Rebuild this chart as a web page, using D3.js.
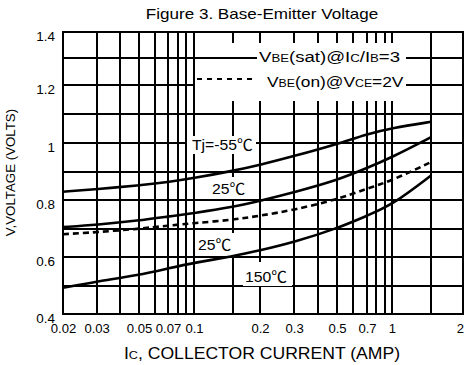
<!DOCTYPE html>
<html><head><meta charset="utf-8">
<script src="https://cdn.jsdelivr.net/npm/d3@7"></script>
<style>
body{margin:0;background:#fff}
svg{display:block}
text{font-family:"Liberation Sans",Arial,"Noto Sans CJK SC",sans-serif;fill:#000}
</style></head><body>
<svg id="c" width="464" height="365"></svg>
<script>
// ---- data ----
const current = [0.02,0.03,0.05,0.07,0.1,0.15,0.2,0.3,0.5,0.7,1,1.5];
const vbeSatM55 = [0.829,0.838,0.851,0.863,0.877,0.902,0.923,0.954,0.996,1.031,1.052,1.073];
const vbeSat25  = [0.705,0.713,0.728,0.742,0.754,0.775,0.797,0.827,0.869,0.912,0.950,1.020];
const vbeOn25   = [0.680,0.687,0.699,0.710,0.719,0.730,0.745,0.765,0.802,0.840,0.868,0.933];
const vbeSat150 = [0.492,0.514,0.537,0.560,0.580,0.602,0.623,0.652,0.700,0.745,0.782,0.886];

const xTicks = [0.02,0.03,0.05,0.07,0.1,0.2,0.3,0.5,0.7,1,2];
const xTickLabels = ["0.02","0.03","0.05","0.07","0.1","0.2","0.3","0.5","0.7","1","2"];
const xGrid = [0.03,0.04,0.05,0.06,0.07,0.08,0.09,0.1,0.15,0.2,0.3,0.4,0.5,0.6,0.7,0.8,0.9,1,1.5];
const yTicks = [0.4,0.6,0.8,1.0,1.2,1.4];
const yTickLabels = ["0.4","0.6","0.8","1","1.2","1.4"];
const yGrid = [0.5,0.6,0.7,0.8,0.9,1.0,1.1,1.2,1.3];

// ---- layout ----
const L=63, R=463, T=32, B=314;
const svg = d3.select("#c");

// hand-drawn log paper: piecewise log calibration
const x = d3.scaleLog()
  .domain([0.02,0.05,0.07,0.1,0.2,0.5,0.7,1,1.5,2])
  .range([L,139,168,194,260,337,367,392,431,R]);
const y = d3.scaleLinear()
  .domain([0.4,0.6,0.8,1.0,1.2,1.4])
  .range([B,257,200,143,85,T]);

function stext(g, px, py, parts, o){
  o = o||{};
  const t = g.append("text")
    .attr("transform",`translate(${px},${py}) scale(${o.sx||1},1)`)
    .attr("text-anchor",o.anchor||"start");
  parts.forEach(p=>t.append("tspan").attr("font-size",p[1]).text(p[0]));
  return t;
}

// grid
const grid = svg.append("g").attr("stroke","#000").attr("stroke-width",1.8)
  .attr("shape-rendering","crispEdges");
grid.selectAll("line.v").data(xGrid).join("line")
  .attr("x1",d=>Math.round(x(d))).attr("x2",d=>Math.round(x(d))).attr("y1",T).attr("y2",B);
grid.selectAll("line.h").data(yGrid).join("line")
  .attr("x1",L).attr("x2",R).attr("y1",d=>Math.round(y(d))).attr("y2",d=>Math.round(y(d)));
svg.append("rect").attr("x",L).attr("y",T).attr("width",R-L).attr("height",B-T)
  .attr("fill","none").attr("stroke","#000").attr("stroke-width",1.8)
  .attr("shape-rendering","crispEdges");

// legend box
svg.append("rect").attr("x",195).attr("y",43).attr("width",211).attr("height",58).attr("fill","#fff");
svg.append("line").attr("x1",194).attr("x2",257).attr("y1",Math.round(y(1.3))).attr("y2",Math.round(y(1.3)))
  .attr("stroke","#000").attr("stroke-width",1.8).attr("shape-rendering","crispEdges");
svg.append("line").attr("x1",197).attr("x2",257).attr("y1",79).attr("y2",79)
  .attr("stroke","#000").attr("stroke-width",1.6).attr("stroke-dasharray","5,5")
  .attr("shape-rendering","crispEdges");
stext(svg,259,62,[["V",15.5],["BE",11],["(sat)@I",15.5],["C",11],["/I",15.5],["B",11],["=3",15.5]],{sx:1.2});
stext(svg,267,87,[["V",15.5],["BE",11],["(on)@V",15.5],["CE",11],["=2V",15.5]],{sx:1.12});

// curve labels with white boxes
const boxes = [[187,136,69,18],[210,177,43,22],[195,233,41,23],[243,262,49,24]];
svg.selectAll("rect.lb").data(boxes).join("rect")
  .attr("x",d=>d[0]).attr("y",d=>d[1]).attr("width",d=>d[2]).attr("height",d=>d[3]).attr("fill","#fff");
stext(svg,192,150,[["Tj=-55℃",15]],{sx:1.05});
stext(svg,212,194,[["25℃",15]],{sx:1.05});
stext(svg,198,250,[["25℃",15]],{sx:1.05});
stext(svg,245,281.5,[["150℃",15]],{sx:1.05});

// curves
const line = d3.line().x(d=>x(d[0])).y(d=>y(d[1])).curve(d3.curveBasis);
const series = [
  {v:vbeSatM55, dash:null},
  {v:vbeSat25, dash:null},
  {v:vbeOn25, dash:"6,4"},
  {v:vbeSat150, dash:null}
];
svg.selectAll("path.curve").data(series).join("path")
  .attr("d",s=>line(current.map((c,i)=>[c,s.v[i]])))
  .attr("fill","none").attr("stroke","#000").attr("stroke-width",2.6)
  .attr("stroke-dasharray",s=>s.dash);

// axes labels
const xa = svg.append("g").attr("transform",`translate(0,${B})`)
  .call(d3.axisBottom(x).tickValues(xTicks).tickFormat((d,i)=>xTickLabels[i]).tickSize(0));
xa.select(".domain").remove();
xa.selectAll("text").attr("font-size",12.5).attr("font-family",null).attr("y",19.5).attr("dy",0)
  .attr("dx",d=>d===2?-3:0)
  .attr("transform","scale(1.05,1)");

const ya = svg.append("g").attr("transform",`translate(${L},0)`)
  .call(d3.axisLeft(y).tickValues(yTicks).tickFormat((d,i)=>yTickLabels[i]).tickSize(0));
ya.select(".domain").remove();
ya.selectAll("text").attr("font-size",12).attr("font-family",null)
  .attr("x",-8/1.12).attr("dy",0).attr("y",8).attr("transform","scale(1.12,1)");

// titles
stext(svg,262,19,[["Figure 3. Base-Emitter Voltage",14]],{sx:1.22,anchor:"middle"});
stext(svg,262,358.5,[["I",16],["C",11.5],[", COLLECTOR CURRENT (AMP)",16]],{sx:1.1,anchor:"middle"});
svg.append("text").attr("transform","translate(15,172.5) rotate(-90)")
  .attr("text-anchor","middle").attr("font-size",13.3).text("V,VOLTAGE (VOLTS)");
</script></body></html>
